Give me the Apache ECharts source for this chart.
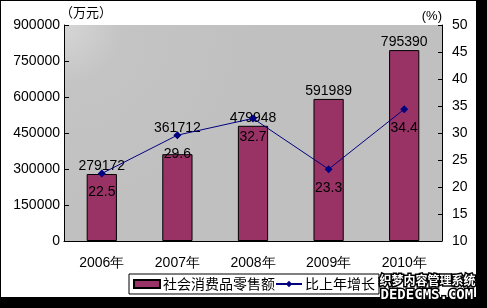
<!DOCTYPE html>
<html><head><meta charset="utf-8">
<script src="https://cdn.jsdelivr.net/npm/echarts@6/dist/echarts.min.js"></script>
<style>html,body{margin:0;padding:0;background:#fff}#c{width:487px;height:308px}</style>
</head><body><div id="c"></div>
<script>
const categories = ['2006年','2007年','2008年','2009年','2010年'];
const salesValues = [279172, 361712, 479948, 591989, 795390];
const growthValues = [22.5, 29.6, 32.7, 23.3, 34.4];
const leftTicks = [0, 150000, 300000, 450000, 600000, 750000, 900000];
const rightTicks = [10, 15, 20, 25, 30, 35, 40, 45, 50];
const salesName = '社会消费品零售额';
const growthName = '比上年增长';

const font = 'Liberation Sans, Arial, sans-serif';
const cjk = '"Noto Sans CJK SC", sans-serif';
const chart = echarts.init(document.getElementById('c'), null, {renderer:'canvas'});
chart.setOption({
  animation:false,
  backgroundColor:'#fff',
  textStyle:{fontFamily:font},
  grid:{left:64, right:45, top:25, bottom:67, show:true, borderWidth:0,
    backgroundColor:{type:'radial', x:0, y:0, r:0.9, colorStops:[
      {offset:0, color:'#d6d6d6'},{offset:0.3, color:'#c4c4c4'},{offset:1, color:'#c0c0c0'}]}},
  legend:{left:129, top:274, padding:[3,4,3,4], borderColor:'#000', borderWidth:1,
    itemGap:0, itemWidth:26, itemHeight:8,
    textStyle:{fontFamily:cjk, fontSize:14, color:'#000', padding:[0,0,0,-2]},
    data:[{name:salesName, icon:'rect'}, {name:growthName}]},
  xAxis:{type:'category', data:categories,
    axisLine:{lineStyle:{color:'#000', width:1}},
    axisTick:{inside:true, length:4, lineStyle:{color:'#000'}},
    axisLabel:{color:'#000', fontSize:14, margin:15, fontFamily:font}},
  yAxis:[
    {type:'value', min:leftTicks[0], max:leftTicks[leftTicks.length-1], interval:150000,
     name:'（万元）', nameLocation:'end', nameGap:2,
     nameTextStyle:{fontFamily:cjk, fontSize:13, color:'#000', align:'left', padding:[0,0,0,-4]},
     axisLine:{show:true, lineStyle:{color:'#000'}},
     axisTick:{show:true, inside:true, length:5, lineStyle:{color:'#000'}},
     splitLine:{show:false},
     axisLabel:{color:'#000', fontSize:14, margin:4, padding:[5,0,0,0], formatter:v=>String(v)}},
    {type:'value', min:rightTicks[0], max:rightTicks[rightTicks.length-1], interval:5,
     name:'(%)', nameLocation:'end', nameGap:2,
     nameTextStyle:{fontFamily:font, fontSize:13, color:'#000', align:'right', padding:[0,0,0,0]},
     axisLine:{show:true, lineStyle:{color:'#000'}},
     axisTick:{show:true, inside:true, length:4, lineStyle:{color:'#000'}},
     splitLine:{show:false},
     axisLabel:{color:'#000', fontSize:14, margin:10, padding:[5,0,0,0]}}
  ],
  series:[
    {name:salesName, type:'bar', barWidth:'40%',
     data:salesValues.map((v,i)=> i===1 ? {value:v, label:{offset:[0,-18]}} : v),
     itemStyle:{color:'#993366', borderColor:'#000', borderWidth:1},
     label:{show:true, position:'top', distance:1, color:'#000', fontSize:14}},
    {name:growthName, type:'line', yAxisIndex:1, data:growthValues,
     symbol:'diamond', symbolSize:8, lineStyle:{color:'#000080', width:1},
     itemStyle:{color:'#000080'},
     label:{show:true, position:'bottom', distance:8, color:'#000', fontSize:14}}
  ],
  graphic:[
    {type:'rect', shape:{x:0,y:0,width:487,height:1}, style:{fill:'#000'}, silent:true},
    {type:'rect', shape:{x:0,y:0,width:1,height:308}, style:{fill:'#000'}, silent:true},
    {type:'rect', shape:{x:476,y:0,width:11,height:308}, style:{fill:'#000'}, silent:true},
    {type:'rect', shape:{x:0,y:297,width:487,height:11}, style:{fill:'#000'}, silent:true},
    {type:'text', left:378, top:273, style:{text:'织梦内容管理系统', font:'bold 12px "Noto Sans CJK SC"', fill:'#fff', stroke:'#000', lineWidth:3}},
    {type:'text', left:379, top:287, style:{text:'DEDECMS.COM', font:'bold 14px "DejaVu Sans Mono", monospace', fill:'#fff', stroke:'#000', lineWidth:3}}
  ]
});
</script></body></html>
